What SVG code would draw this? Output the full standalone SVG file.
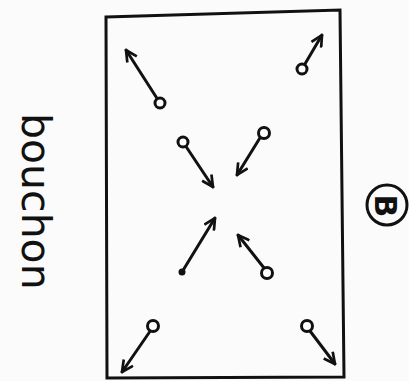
<svg xmlns="http://www.w3.org/2000/svg" width="409" height="381" viewBox="0 0 409 381">
<defs>
<style>
.ln{stroke:#111;stroke-width:3;fill:none;stroke-linecap:round;marker-end:url(#ah)}
.tail{fill:#fff;stroke:#111;stroke-width:3}
.lbl{font-family:"DejaVu Sans","Liberation Sans",sans-serif;fill:#111}
</style>
<marker id="ah" viewBox="0 0 12 12" refX="11" refY="6" markerWidth="4.5" markerHeight="4.5" orient="auto" markerUnits="strokeWidth">
<path d="M1,1 L11,6 L1,11" fill="none" stroke="#111" stroke-width="2.4" stroke-linejoin="miter"/>
</marker>
</defs>
<rect width="409" height="381" fill="#fbfbfb"/>
<g id="frame"><polygon points="106,17 340,10 344,377 107,378" fill="none" stroke="#111" stroke-width="3"/></g>
<g id="label-bouchon"><text class="lbl" font-size="41" transform="translate(22,113) rotate(90)">bouchon</text></g>
<g id="label-B"><circle cx="387" cy="205" r="20" fill="none" stroke="#111" stroke-width="3"/><text class="lbl" font-size="30" font-weight="bold" text-anchor="middle" transform="translate(375,206) rotate(90)">B</text></g>
<g id="connectors">
<line class="ln" x1="160" y1="103" x2="126" y2="50"/>
<line class="ln" x1="302" y1="69" x2="322" y2="35"/>
<line class="ln" x1="183" y1="142" x2="213" y2="187"/>
<line class="ln" x1="263" y1="133" x2="237" y2="175"/>
<line class="ln" x1="182" y1="272" x2="215" y2="218"/>
<line class="ln" x1="268" y1="273" x2="238" y2="235"/>
<line class="ln" x1="153" y1="327" x2="122" y2="372"/>
<line class="ln" x1="307" y1="327" x2="335" y2="364"/>
</g>
<g id="p1"><circle class="tail" cx="160" cy="103" r="5"/></g>
<g id="p2"><circle class="tail" cx="302" cy="69" r="5"/></g>
<g id="p3"><circle class="tail" cx="183" cy="142" r="5"/></g>
<g id="p4"><circle class="tail" cx="264" cy="133" r="5.5"/></g>
<g id="p5"><circle cx="182" cy="272" r="3.5" fill="#111"/></g>
<g id="p6"><circle class="tail" cx="267" cy="273" r="5.5"/></g>
<g id="p7"><circle class="tail" cx="153" cy="326" r="5.5"/></g>
<g id="p8"><circle class="tail" cx="307" cy="326" r="5.5"/></g>
</svg>
